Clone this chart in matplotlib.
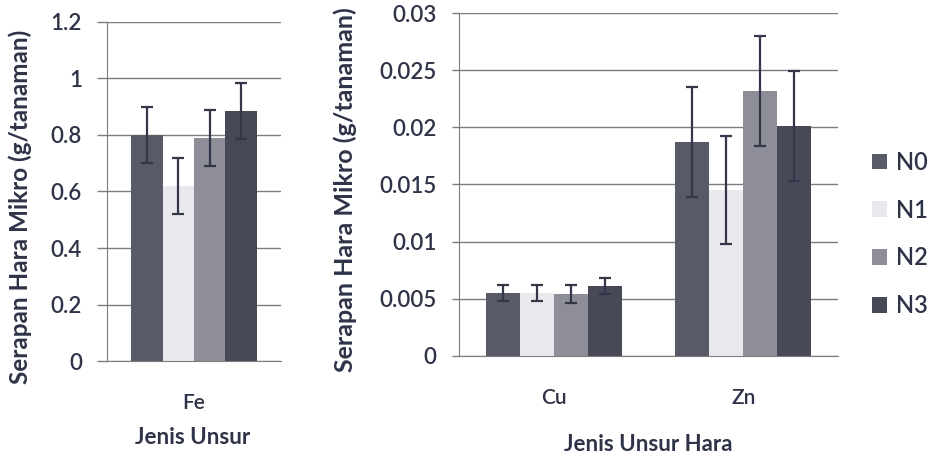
import numpy as np
import matplotlib
matplotlib.use('Agg')
import matplotlib.pyplot as plt

plt.rcParams['font.family'] = ['Lato', 'DejaVu Sans']

# Data
series = ['N0', 'N1', 'N2', 'N3']
fe_vals = [0.80, 0.62, 0.79, 0.885]
fe_err = [0.10, 0.10, 0.10, 0.10]

cats = ['Cu', 'Zn']
cu_zn_vals = [[0.0055, 0.0187],
              [0.0055, 0.0145],
              [0.0054, 0.0232],
              [0.0061, 0.0201]]
cu_zn_err = [[0.0007, 0.0048],
             [0.0007, 0.0047],
             [0.0008, 0.0048],
             [0.0007, 0.0048]]

colors = ['#595a67', '#e9e9ed', '#8d8e98', '#484957']
txt = '#2f3348'
grid_c = '#7c7c80'
err_kw = dict(ecolor='#34364a', elinewidth=1.6, capthick=1.6)

fig = plt.figure(figsize=(9.39, 4.61), dpi=100)
ax1 = fig.add_axes([0.1140, 0.2169, 0.1853, 0.7354])
ax2 = fig.add_axes([0.4888, 0.2278, 0.4036, 0.7440])

bw = 0.18


def style(ax, ticklen):
    ax.set_axisbelow(True)
    ax.yaxis.grid(True, color=grid_c, linewidth=1.0)
    for s in ['top', 'right']:
        ax.spines[s].set_visible(False)
    ax.spines['left'].set_color(grid_c)
    ax.spines['bottom'].set_color(grid_c)
    ax.tick_params(axis='y', length=ticklen, color=grid_c, width=1.0,
                   labelcolor=txt, labelsize=16, pad=11)
    ax.tick_params(axis='x', length=0, labelcolor=txt, labelsize=15, pad=23)
    for lab in ax.get_xticklabels() + ax.get_yticklabels():
        lab.set_fontweight('semibold')


# Left panel: Fe
x = np.arange(1)
for i, s in enumerate(series):
    ax1.bar(x + (i - 1.5) * bw, [fe_vals[i]], bw, color=colors[i],
            yerr=[fe_err[i]], capsize=4, error_kw=err_kw)
ax1.set_xlim(-0.5, 0.5)
ax1.set_ylim(0, 1.2)
ax1.set_yticks([0, 0.2, 0.4, 0.6, 0.8, 1, 1.2])
ax1.set_yticklabels(['0', '0.2', '0.4', '0.6', '0.8', '1', '1.2'])
ax1.set_xticks(x)
ax1.set_xticklabels(['Fe'])
style(ax1, 7)
ax1.set_xlabel('Jenis Unsur', fontsize=16, fontweight='bold', color=txt, va='top')
ax1.xaxis.set_label_coords(0.494, -0.195)
ax1.set_ylabel('Serapan Hara Mikro (g/tanaman)', fontsize=17.5,
               fontweight='bold', color=txt)
ax1.yaxis.set_label_coords(-0.43, 0.456)

# Right panel: Cu, Zn
x = np.arange(len(cats))
for i, s in enumerate(series):
    ax2.bar(x + (i - 1.5) * bw, cu_zn_vals[i], bw, color=colors[i],
            yerr=cu_zn_err[i], capsize=4, label=s, error_kw=err_kw)
ax2.set_xlim(-0.5, 1.5)
ax2.set_ylim(0, 0.03)
ax2.set_yticks([0, 0.005, 0.01, 0.015, 0.02, 0.025, 0.03])
ax2.set_yticklabels(['0', '0.005', '0.01', '0.015', '0.02', '0.025', '0.03'])
ax2.set_xticks(x)
ax2.set_xticklabels(cats)
style(ax2, 5)
ax2.set_xlabel('Jenis Unsur Hara', fontsize=16, fontweight='bold', color=txt, va='top')
ax2.xaxis.set_label_coords(0.499, -0.228)
ax2.set_ylabel('Serapan Hara Mikro (g/tanaman)', fontsize=18,
               fontweight='bold', color=txt)
ax2.yaxis.set_label_coords(-0.27, 0.484)

leg = fig.legend(*ax2.get_legend_handles_labels(), loc='center left',
                 bbox_to_anchor=(872 / 939, 1 - 234 / 461), frameon=False,
                 fontsize=17, handlelength=0.65, handleheight=0.65,
                 handletextpad=0.35, labelspacing=1.05, borderpad=0,
                 borderaxespad=0)
for t in leg.get_texts():
    t.set_color(txt)
    t.set_fontweight('semibold')

fig.savefig('out.png', dpi=100)
